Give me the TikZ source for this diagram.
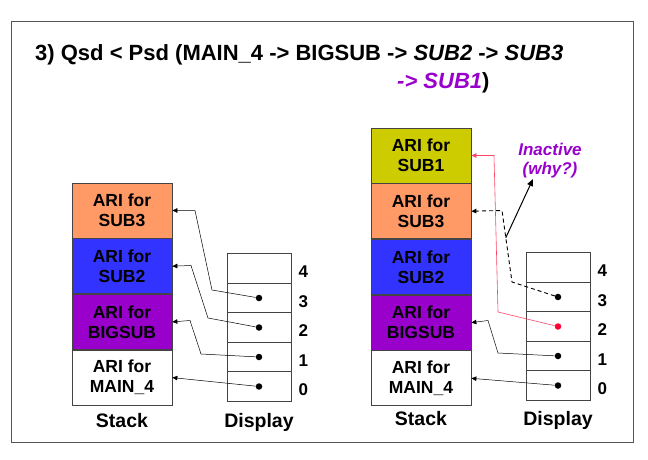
\documentclass[tikz,border=0pt]{standalone}
\usepackage{fontspec}
\setmainfont{Liberation Sans}
\usepackage{tikz}
\usepackage{xcolor}
\usetikzlibrary{arrows.meta,positioning,calc}
\definecolor{ink}{HTML}{000000}
\definecolor{framegray}{HTML}{555555}
\definecolor{cellgray}{HTML}{444444}
\definecolor{subthree}{HTML}{FF9966}
\definecolor{subtwo}{HTML}{3333FF}
\definecolor{bigsub}{HTML}{9900CC}
\definecolor{subone}{HTML}{CCCC00}
\definecolor{accentpurple}{HTML}{9900CC}
\definecolor{ptrred}{HTML}{FF4466}
\definecolor{dotred}{HTML}{FF0033}
\tikzset{
  framebox/.style={draw=framegray,line width=1pt},
  ari/.style={draw=cellgray,line width=0.7pt,minimum width=100pt,
              minimum height=55pt,inner sep=0pt,align=center,
              font=\fontsize{17.5}{20}\selectfont\bfseries},
  dcell/.style={draw=cellgray,line width=0.6pt,minimum width=64pt,
                minimum height=29.5pt,inner sep=0pt},
  idx/.style={anchor=west,inner sep=0pt,
              font=\fontsize{17}{20}\selectfont\bfseries},
  colname/.style={anchor=base,inner sep=0pt,
                  font=\fontsize{19.5}{22}\selectfont\bfseries},
  ptrdot/.style={circle,fill=ink,minimum size=6.5pt,inner sep=0pt},
  ptr/.style={-{Triangle[length=5pt,width=4.5pt]},line width=0.5pt,draw=ink},
  redptr/.style={-{Triangle[length=5pt,width=4.5pt]},line width=0.6pt,
                 draw=ptrred,color=ptrred},
  dashptr/.style={-{Triangle[length=5pt,width=4.5pt]},line width=0.9pt,
                  draw=ink,dash pattern=on 4pt off 3pt},
  notearr/.style={-{Triangle[length=7pt,width=6pt]},line width=1pt,draw=ink},
  titletext/.style={anchor=base west,inner sep=0pt,
                    font=\fontsize{22}{26}\selectfont\bfseries}
}

\begin{document}
\begin{tikzpicture}[x=1pt,y=-1pt]
    \path[use as bounding box] (0,0) rectangle (648,460);
    \draw[framebox] (11,22) rectangle (633,442);

    % title
    \node[titletext] (title) at (35,60)
      {3) Qsd < Psd (MAIN\_4 -> BIGSUB -> \textit{SUB2} -> \textit{SUB3}};
    \node[titletext] (titlecont) at (397,88.5)
      {\textcolor{accentpurple}{\textit{-> SUB1}})};

    % left: stack and display
    \node[ari,fill=subthree] (lsub3) at (122,210.5) {ARI for\\SUB3};
    \node[ari,fill=subtwo,below=0pt of lsub3] (lsub2) {ARI for\\SUB2};
    \node[ari,fill=bigsub,below=0pt of lsub2] (lbigsub) {ARI for\\BIGSUB};
    \node[ari,fill=white,below=0pt of lbigsub] (lmain) {ARI for\\MAIN\_4};
    \node[colname] (lstack) at (122,427) {Stack};

    \foreach \i in {0,...,4}{
      \node[dcell] (ld\i) at (259,{386.5-29.5*\i}) {};
      \node[idx] (lidx\i) at ($(ld\i.east)+(7,3.5)$) {\i};
    }
    \node[colname] (ldisplay) at (259,427) {Display};
    \foreach \i in {0,...,3}{
      \node[ptrdot] (lp\i) at (ld\i) {};
    }
    \draw[ptr] (lp3) -- (212,290) -- (195,210.5) -- (lsub3.east);
    \draw[ptr] (lp2) -- (208,318) -- (191,265.5) -- (lsub2.east);
    \draw[ptr] (lp1) -- (201,354) -- (190,320.5) -- (lbigsub.east);
    \draw[ptr] (lp0) -- (lmain.east);

    % right: stack and display
    \node[ari,fill=subone] (rsub1) at (421,155.5) {ARI for\\SUB1};
    \node[ari,fill=subthree,below=0pt of rsub1] (rsub3) {ARI for\\SUB3};
    \node[ari,fill=subtwo,below=0pt of rsub3] (rsub2) {ARI for\\SUB2};
    \node[ari,fill=bigsub,below=0pt of rsub2] (rbigsub) {ARI for\\BIGSUB};
    \node[ari,fill=white,below=0pt of rbigsub] (rmain) {ARI for\\MAIN\_4};
    \node[colname] (rstack) at (421,425) {Stack};

    \foreach \i in {0,...,4}{
      \node[dcell] (rd\i) at (558,{385.5-29.5*\i}) {};
      \node[idx] (ridx\i) at ($(rd\i.east)+(7,3.5)$) {\i};
    }
    \node[colname] (rdisplay) at (558,425) {Display};
    \foreach \i in {0,1,3}{
      \node[ptrdot] (rp\i) at (rd\i) {};
    }
    \node[ptrdot,fill=dotred] (rp2) at (rd2) {};

    \draw[redptr] (rp2) -- (498,312) -- (494,155.5) -- (rsub1.east);
    \draw[dashptr] (rp3) -- (512,282) -- coordinate[pos=0.62] (kink)
      (502,210.5) -- (rsub3.east);
    \draw[ptr] (rp1) -- (498,353) -- (488,320.5) -- (rbigsub.east);
    \draw[ptr] (rp0) -- (rmain.east);

    \node[align=center,inner sep=0pt,text=accentpurple,
          font=\fontsize{17}{19}\selectfont\bfseries\itshape]
      (inactive) at (550,161) {Inactive\\(why?)};
    \coordinate (inacttip) at (533,179);
    \draw[notearr] (kink) -- (inacttip);
  \end{tikzpicture}
\end{document}
